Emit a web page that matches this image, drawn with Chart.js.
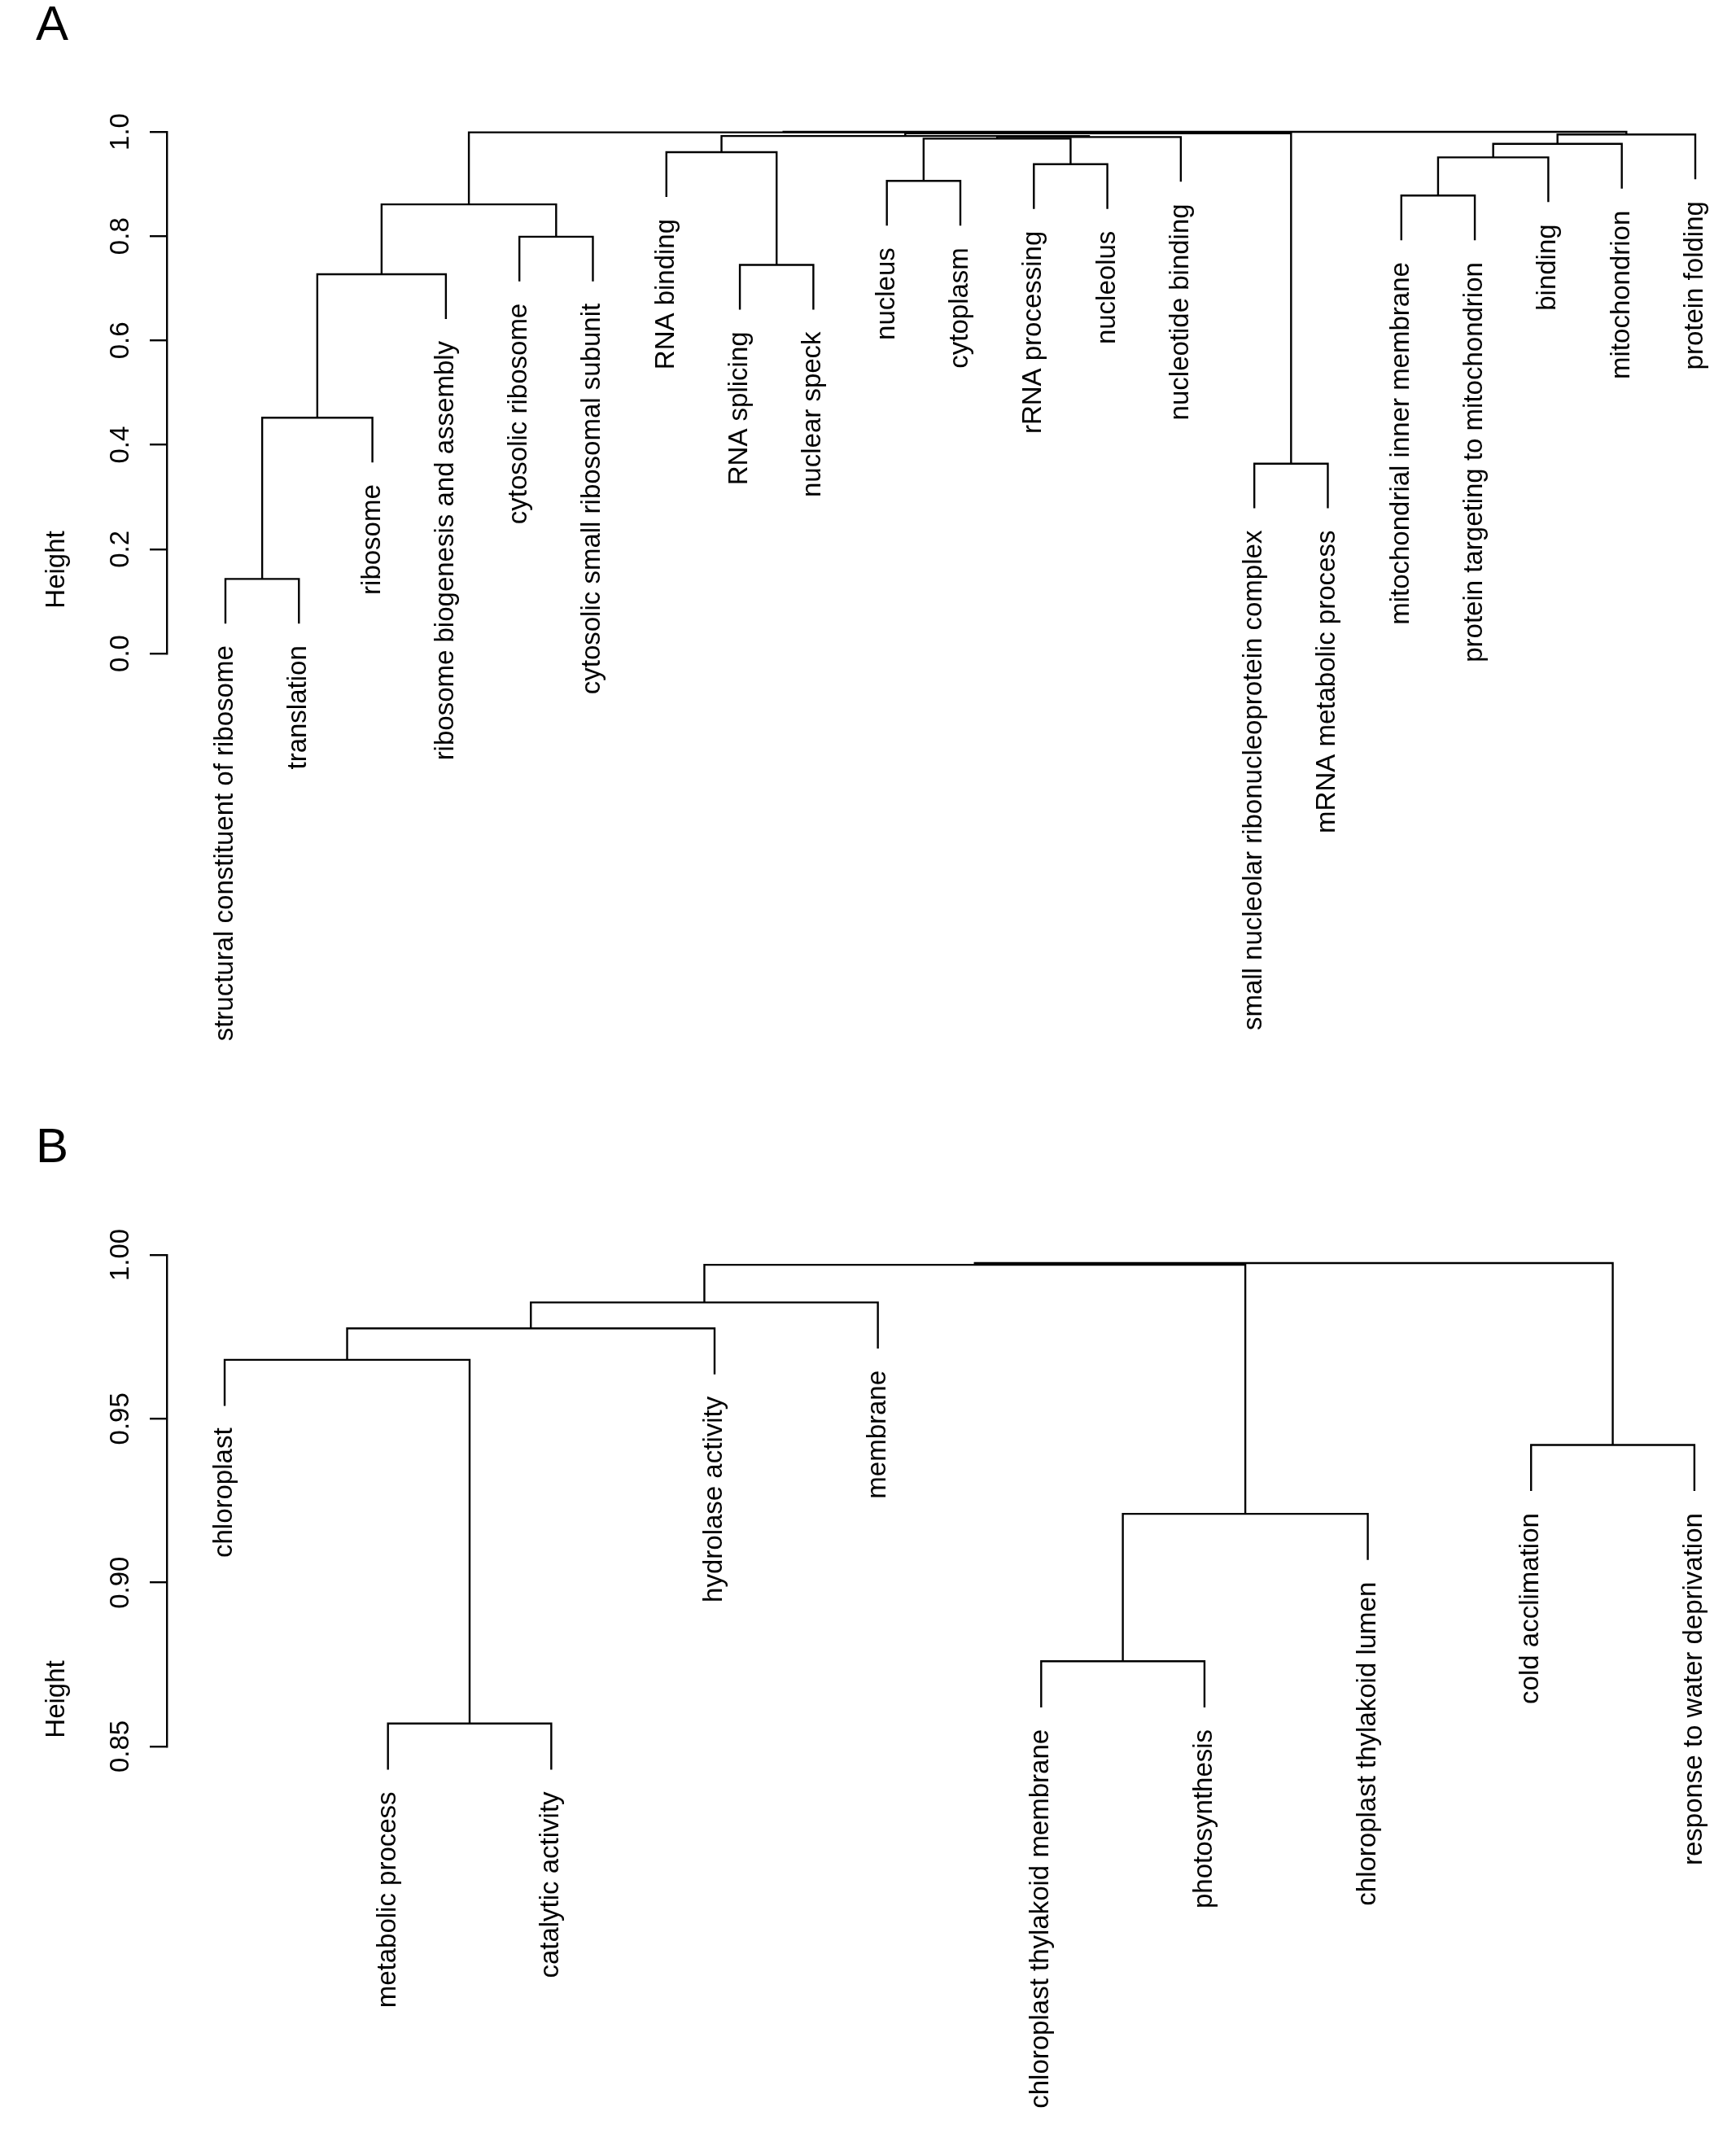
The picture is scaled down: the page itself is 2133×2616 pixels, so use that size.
<!DOCTYPE html>
<html>
<head>
<meta charset="utf-8">
<script src="https://cdn.jsdelivr.net/npm/chart.js@4.4.1/dist/chart.umd.min.js"></script>
<style>
    body { margin: 0; background: #fff; overflow: hidden; }
    canvas { position: absolute; left: 0; }
</style>
</head>
<body>
<canvas id="chartA" width="2133" height="1330" style="top:0"></canvas>
<canvas id="chartB" width="2133" height="1286" style="top:1330px"></canvas>
<script>
"use strict";

// panel A: leaves in plotted order, hclust-style merges (negative = leaf), merge heights
const leavesA = [
    'structural constituent of ribosome', 'translation', 'ribosome',
    'ribosome biogenesis and assembly', 'cytosolic ribosome', 'cytosolic small ribosomal subunit',
    'RNA binding', 'RNA splicing', 'nuclear speck', 'nucleus', 'cytoplasm',
    'rRNA processing', 'nucleolus', 'nucleotide binding',
    'small nucleolar ribonucleoprotein complex', 'mRNA metabolic process',
    'mitochondrial inner membrane', 'protein targeting to mitochondrion',
    'binding', 'mitochondrion', 'protein folding'
];
const mergeA = [
    [-1, -2], [1, -3], [2, -4], [-5, -6], [3, 4],
    [-8, -9], [-7, 6], [-10, -11], [-12, -13], [8, 9],
    [10, -14], [7, 11], [-15, -16], [12, 13], [5, 14],
    [-17, -18], [16, -19], [17, -20], [18, -21], [15, 19]
];
const heightsA = [
    0.143, 0.452, 0.727, 0.799, 0.861,
    0.745, 0.961, 0.906, 0.938, 0.987,
    0.990, 0.992, 0.364, 0.997, 0.999,
    0.878, 0.951, 0.977, 0.995, 1.000
];
const ticksA = [0, 0.2, 0.4, 0.6, 0.8, 1.0];

// panel B
const leavesB = [
    'chloroplast', 'metabolic process', 'catalytic activity', 'hydrolase activity',
    'membrane', 'chloroplast thylakoid membrane', 'photosynthesis',
    'chloroplast thylakoid lumen', 'cold acclimation', 'response to water deprivation'
];
const mergeB = [
    [-2, -3], [-1, 1], [2, -4], [3, -5], [-6, -7],
    [5, -8], [-9, -10], [4, 6], [8, 7]
];
const heightsB = [0.857, 0.968, 0.9776, 0.9855, 0.876, 0.921, 0.942, 0.997, 0.9975];
const ticksB = [0.85, 0.90, 0.95, 1.00];

const FONT = '"Liberation Sans", Arial, Helvetica, sans-serif';

// turn merges into U-shaped links, the way plot.hclust does (hang = 0.1 of height range)
function dendrogram(merge, heights) {
    const hang = 0.1 * (Math.max(...heights) - Math.min(...heights)),
        pos = [],
        links = [],
        leafEnds = [];
    const xOf = i => i < 0 ? -i : pos[i - 1];
    const yOf = (i, h) => {
        if (i > 0) return heights[i - 1];
        leafEnds[-i - 1] = h - hang;
        return h - hang;
    };

    merge.forEach(([l, r], k) => {
        const h = heights[k];
        links.push([
            {x: xOf(l), y: yOf(l, h)},
            {x: xOf(l), y: h},
            {x: xOf(r), y: h},
            {x: xOf(r), y: yOf(r, h)}
        ]);
        pos[k] = (xOf(l) + xOf(r)) / 2;
    });
    return {links, leafEnds};
}

function vtext(ctx, text, x, y, align) {
    ctx.save();
    ctx.translate(x, y);
    ctx.rotate(-Math.PI / 2);
    ctx.textAlign = align;
    ctx.textBaseline = 'alphabetic';
    ctx.fillText(text, 0, 0);
    ctx.restore();
}

const dendroText = {
    id: 'dendroText',
    afterDraw(chart, args, opts) {
        const {ctx, scales: {x, y}} = chart;
        ctx.save();
        ctx.fillStyle = '#000';
        ctx.font = '33px ' + FONT;

        y.ticks.forEach(t => vtext(ctx, t.value.toFixed(opts.digits), 158, y.getPixelForValue(t.value), 'center'));
        vtext(ctx, 'Height', 79, opts.titleY, 'center');

        opts.leaves.forEach((name, i) => {
            vtext(ctx, name, x.getPixelForValue(i + 1) + 9, y.getPixelForValue(opts.leafEnds[i]) + 27, 'right');
        });

        ctx.font = '60px ' + FONT;
        ctx.textAlign = 'left';
        ctx.textBaseline = 'alphabetic';
        ctx.fillText(opts.letter, 44, opts.letterY);
        ctx.restore();
    }
};

function makeChart(id, cfg) {
    const {links, leafEnds} = dendrogram(cfg.merge, cfg.heights);
    const tickValues = cfg.ticks;

    return new Chart(document.getElementById(id), {
        type: 'scatter',
        data: {
            datasets: links.map(pts => ({
                data: pts,
                showLine: true,
                borderColor: '#000',
                borderWidth: 2.4,
                pointRadius: 0,
                tension: 0,
                clip: false
            }))
        },
        options: {
            responsive: false,
            devicePixelRatio: 1,
            animation: false,
            events: [],
            layout: {padding: cfg.padding},
            plugins: {
                legend: {display: false},
                tooltip: {enabled: false},
                dendroText: {
                    leaves: cfg.leaves,
                    leafEnds,
                    digits: cfg.digits,
                    letter: cfg.letter,
                    letterY: cfg.letterY,
                    titleY: cfg.titleY
                }
            },
            scales: {
                x: {type: 'linear', min: cfg.xMin, max: cfg.xMax, display: false},
                y: {
                    type: 'linear',
                    position: 'left',
                    min: tickValues[0],
                    max: tickValues[tickValues.length - 1],
                    afterBuildTicks: s => { s.ticks = tickValues.map(v => ({value: v})); },
                    afterFit: s => { s.width = 21; },
                    ticks: {display: false},
                    grid: {drawOnChartArea: false, drawTicks: true, tickLength: 21, color: '#000', lineWidth: 2.4},
                    border: {display: true, color: '#000', width: 2.4}
                }
            }
        },
        plugins: [dendroText]
    });
}

makeChart('chartA', {
    leaves: leavesA, merge: mergeA, heights: heightsA, ticks: ticksA,
    digits: 1, letter: 'A', letterY: 49, titleY: 700,
    xMin: 0.203, xMax: 21.41,
    padding: {left: 184, top: 162, right: 13, bottom: 527}
});

makeChart('chartB', {
    leaves: leavesB, merge: mergeB, heights: heightsB, ticks: ticksB,
    digits: 2, letter: 'B', letterY: 98, titleY: 758,
    xMin: 0.646, xMax: 10.19,
    padding: {left: 184, top: 212, right: 13, bottom: 470}
});
</script>
</body>
</html>
